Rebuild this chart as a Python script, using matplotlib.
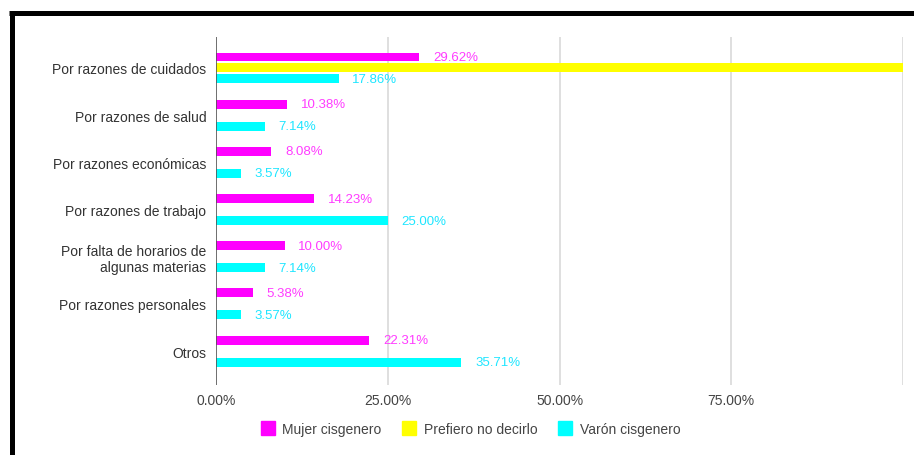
import matplotlib.pyplot as plt
import numpy as np
from matplotlib.lines import Line2D

categories = ["Por razones de cuidados", "Por razones de salud", "Por razones económicas",
              "Por razones de trabajo", "Por falta de horarios de\nalgunas materias",
              "Por razones personales", "Otros"]
series = ["Mujer cisgenero", "Prefiero no decirlo", "Varón cisgenero"]
mujer = [29.62, 10.38, 8.08, 14.23, 10.00, 5.38, 22.31]
prefiero = [100.0, 0, 0, 0, 0, 0, 0]
varon = [17.86, 7.14, 3.57, 25.00, 7.14, 3.57, 35.71]
colors = ["#ff00ff", "#ffff00", "#00ffff"]
label_colors = ["#ff3cff", None, "#1ee6ff"]

plt.rcParams['font.family'] = ['Liberation Sans', 'DejaVu Sans']

fig = plt.figure(figsize=(9.14, 4.56), dpi=100)
ax = fig.add_axes([0.2363, 0.1535, 0.988 - 0.2363, 0.9167 - 0.1535])

y = np.arange(len(categories))
offsets = [-0.233, 0, 0.233]
h = 0.19
for vals, off, c, lc in zip([mujer, prefiero, varon], offsets, colors, label_colors):
    for yi, v in zip(y, vals):
        if v == 0:
            continue
        ax.barh(yi + off, v, height=h, color=c, zorder=3)
        if lc is not None:
            ax.text(v + 2.0, yi + off, f"{v:.2f}%", color=lc, fontsize=9.5,
                    va="center", ha="left", zorder=4)

ax.set_xlim(0, 100)
ax.set_ylim(6.72, -0.657)
ax.set_yticks(y)
ax.set_yticklabels(categories, fontsize=10, color="#333333", linespacing=1.15)
ax.set_xticks([0, 25, 50, 75])
ax.set_xticklabels(["0.00%", "25.00%", "50.00%", "75.00%"], fontsize=10, color="#444444")
ax.tick_params(axis="both", length=0)
ax.tick_params(axis="y", pad=7)
ax.tick_params(axis="x", pad=6)
for x in [25, 50, 75, 100]:
    ax.axvline(x, color="#d9d9d9", lw=1.2, zorder=1)
ax.axvline(0, color="#555555", lw=1.2, zorder=5)
for s in ax.spines.values():
    s.set_visible(False)

handles = [Line2D([], [], marker="s", linestyle="none", markersize=10,
                  markerfacecolor=c, markeredgecolor=c) for c in colors]
fig.legend(handles, series, loc="center", bbox_to_anchor=(0.514, 0.057), ncol=3,
           frameon=False, fontsize=10, handletextpad=0.45, columnspacing=1.4,
           handlelength=1.2, labelcolor="#444444")

# black frame from the screenshot (top and left edges)
fig.add_artist(Line2D([9.3 / 914, 1.0], [1 - 13.5 / 456, 1 - 13.5 / 456],
                      transform=fig.transFigure, color="black", lw=3.6,
                      solid_capstyle="butt"))
fig.add_artist(Line2D([11.8 / 914, 11.8 / 914], [0, 1 - 13.5 / 456],
                      transform=fig.transFigure, color="black", lw=3.6,
                      solid_capstyle="butt"))

fig.savefig("out.png", dpi=100)
